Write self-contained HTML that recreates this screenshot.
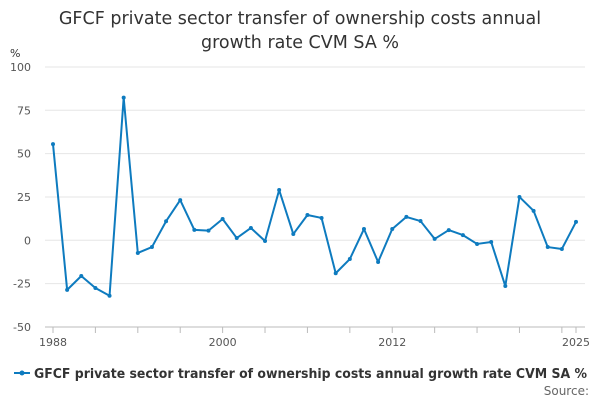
<!DOCTYPE html>
<html><head><meta charset="utf-8"><style>
body{margin:0;background:#fff;font-family:"Liberation Sans","DejaVu Sans",sans-serif;}
svg text{font-family:"DejaVu Sans","Liberation Sans",sans-serif;}
</style></head><body>
<svg id="chart" width="600" height="400">
<text x="300" y="24" text-anchor="middle" font-size="17.5" fill="#333">GFCF private sector transfer of ownership costs annual</text>
<text x="300" y="48" text-anchor="middle" font-size="17.5" fill="#333">growth rate CVM SA %</text>
<text x="10" y="57" font-size="11" fill="#333">%</text>
<g id="grid"></g><g id="xaxis"></g><g id="series"></g>
<g>
<line x1="14" y1="373" x2="30" y2="373" stroke="#0e7bbf" stroke-width="2"/>
<circle cx="22" cy="373" r="2.5" fill="#0e7bbf"/>
<text x="34" y="378" font-size="13" font-weight="bold" fill="#333" textLength="553" lengthAdjust="spacingAndGlyphs">GFCF private sector transfer of ownership costs annual growth rate CVM SA %</text>
</g>
<text x="589" y="395" text-anchor="end" font-size="12" fill="#666">Source:</text>
</svg>
<script>
const years=[1988,1989,1990,1991,1992,1993,1994,1995,1996,1997,1998,1999,2000,2001,2002,2003,2004,2005,2006,2007,2008,2009,2010,2011,2012,2013,2014,2015,2016,2017,2018,2019,2020,2021,2022,2023,2024,2025];
const values=[55.5,-28.6,-20.6,-27.5,-32,82.3,-7.3,-3.9,11,23.2,6,5.6,12.3,1.3,7.1,-0.4,29,3.6,14.6,12.9,-19,-10.8,6.5,-12.5,6.5,13.5,11.1,0.8,5.9,3,-2.1,-1,-26.4,25,17,-3.9,-5,10.6];
const yTicks=[100,75,50,25,0,-25,-50];
const xLabels=[1988,2000,2012,2025];
const NS="http://www.w3.org/2000/svg";
const x=v=>53+(v-1988)*(576-53)/37;
const y=v=>240.3-(v)*260/150;
function mk(t,a,p){const e=document.createElementNS(NS,t);for(const k in a)e.setAttribute(k,a[k]);p.appendChild(e);return e;}
const grid=document.getElementById('grid'),xa=document.getElementById('xaxis'),se=document.getElementById('series');
yTicks.forEach(t=>{
 const l=mk('line',{x1:45,x2:585,y1:y(t),y2:y(t),stroke:t===-50?'#bbb':'#e6e6e6','stroke-width':1},grid);
 
 
 const tx=mk('text',{x:31,y:y(t)+4,'text-anchor':'end','font-size':11,fill:'#555'},grid);
 tx.textContent=t;
 
 
});
for(let yr=1988;yr<=2025;yr+=3){mk('line',{x1:x(yr),x2:x(yr),y1:327,y2:333,stroke:'#bbb'},xa);}
mk('line',{x1:x(2025),x2:x(2025),y1:327,y2:333,stroke:'#bbb'},xa);
xLabels.forEach(v=>{
 const tx=mk('text',{x:x(v),y:346,'text-anchor':'middle','font-size':11,fill:'#555'},xa);
 tx.textContent=v;
 
 
});
const pl=mk('polyline',{points:years.map((yr,i)=>x(yr)+','+y(values[i])).join(' '),fill:'none',stroke:'#0e7bbf','stroke-width':2,'stroke-linejoin':'round'},se);


years.forEach((yr,i)=>{
 const c=mk('circle',{cx:x(yr),cy:y(values[i]),r:2,fill:'#0e7bbf'},se);
 
 
});
</script>
</body></html>
